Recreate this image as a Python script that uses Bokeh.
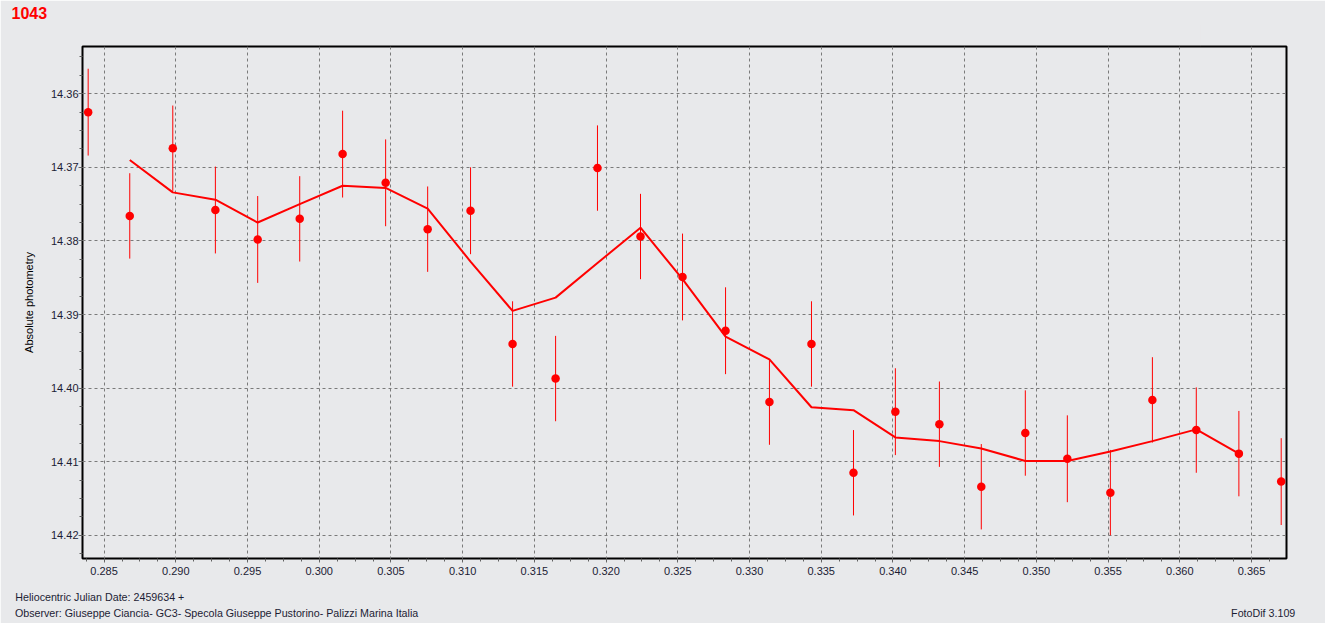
from bokeh.plotting import figure
from bokeh.models import Range1d, FixedTicker, ColumnDataSource, Title, LinearAxis
from bokeh.embed import file_html
from bokeh.resources import INLINE

# ---- data ----
hjd = [0.28389, 0.28679, 0.28979, 0.29276, 0.29571, 0.29864, 0.30163, 0.30463,
       0.30756, 0.31055, 0.31348, 0.31648, 0.31940, 0.32240, 0.32533, 0.32833,
       0.33139, 0.33432, 0.33725, 0.34017, 0.34324, 0.34616, 0.34923, 0.35216,
       0.35516, 0.35809, 0.36115, 0.36412, 0.36707]
mag = [14.3625, 14.3766, 14.3674, 14.3758, 14.3798, 14.3770, 14.3682, 14.3721,
       14.3784, 14.3759, 14.3940, 14.3987, 14.3701, 14.3794, 14.3849, 14.3922,
       14.4019, 14.3940, 14.4115, 14.4032, 14.4049, 14.4134, 14.4061, 14.4096,
       14.4142, 14.4016, 14.4057, 14.4089, 14.4127]
err = [0.0059, 0.0058, 0.0058, 0.0059, 0.0059, 0.0058, 0.0059, 0.0059,
       0.0058, 0.0059, 0.0058, 0.0058, 0.0058, 0.0058, 0.0059, 0.0059,
       0.0058, 0.0058, 0.0058, 0.0059, 0.0058, 0.0058, 0.0058, 0.0059,
       0.0058, 0.0058, 0.0058, 0.0058, 0.0059]
# running mean curve (from 2nd to 28th point)
avg_hjd = hjd[1:28]
avg_mag = [14.3690, 14.3734, 14.3744, 14.3775, 14.3750, 14.3725, 14.3728, 14.3756,
           14.3828, 14.3895, 14.3877, 14.3830, 14.3782, 14.3852, 14.3930, 14.3961,
           14.4026, 14.4030, 14.4067, 14.4072, 14.4082, 14.4099, 14.4099, 14.4086,
           14.4072, 14.4056, 14.4089]

x_ticks = [0.285, 0.290, 0.295, 0.300, 0.305, 0.310, 0.315, 0.320, 0.325, 0.330,
           0.335, 0.340, 0.345, 0.350, 0.355, 0.360, 0.365]
y_ticks = [14.36, 14.37, 14.38, 14.39, 14.40, 14.41, 14.42]
x_minor = [0.28375 + 0.00125 * i for i in range(68)]
y_minor = [14.355 + 0.0025 * i for i in range(28)]

title_text = "1043"
y_label = "Absolute photometry"
footer1 = "Heliocentric Julian Date: 2459634 +"
footer2 = "Observer: Giuseppe Ciancia- GC3- Specola Giuseppe Pustorino- Palizzi Marina Italia"
footer3 = "FotoDif 3.109"

BG = "#e8e9eb"
RED = "#ff0000"
FONT = "Liberation Sans"
TXT = "#1c1c34"
FOOT_SIZE = "10.7px"

W, H = 1325, 623
BL, BR, BT, BB = 82, 39, 46, 65
X0, X1 = 0.283495, 0.36744
Y_BOT, Y_TOP = 14.42315, 14.35358

p = figure(width=W, height=H, output_backend="svg", toolbar_location=None,
           x_range=Range1d(X0, X1), y_range=Range1d(Y_BOT, Y_TOP))
p.min_border_left = BL
p.min_border_right = BR
p.min_border_top = BT
p.min_border_bottom = BB
p.background_fill_color = BG
p.border_fill_color = BG
p.outline_line_color = "black"
p.outline_line_width = 2
p.title.visible = False

p.xaxis.ticker = FixedTicker(ticks=x_ticks, minor_ticks=x_minor)
p.yaxis.ticker = FixedTicker(ticks=y_ticks, minor_ticks=y_minor)
p.xaxis.major_label_overrides = {t: f"{t:.3f}" for t in x_ticks}
p.yaxis.major_label_overrides = {t: f"{t:.2f}" for t in y_ticks}

for ax in (p.xaxis[0], p.yaxis[0]):
    ax.axis_line_color = None
    ax.major_tick_line_color = "#707070"
    ax.minor_tick_line_color = "#606060"
    ax.major_tick_in = 0
    ax.minor_tick_in = 0
    ax.major_tick_out = 4
    ax.minor_tick_out = 3
    ax.major_label_text_font = FONT
    ax.major_label_text_font_size = "11px"
    ax.major_label_text_color = TXT

p.xaxis.major_label_standoff = 4
p.yaxis.major_label_standoff = 0
p.yaxis.axis_label = y_label
p.yaxis.axis_label_text_font = FONT
p.yaxis.axis_label_text_font_size = "11px"
p.yaxis.axis_label_text_font_style = "normal"
p.yaxis.axis_label_text_color = "black"
p.yaxis.axis_label_standoff = 13

p.xgrid.ticker = FixedTicker(ticks=x_ticks)
p.ygrid.ticker = FixedTicker(ticks=y_ticks)
for g in (p.xgrid[0], p.ygrid[0]):
    g.grid_line_color = "#7a7a7a"
    g.grid_line_dash = "3 3"
    g.grid_line_width = 1

src = ColumnDataSource(data=dict(
    x=hjd, y=mag,
    lo=[m - e for m, e in zip(mag, err)],
    hi=[m + e for m, e in zip(mag, err)]))

p.segment(x0="x", y0="lo", x1="x", y1="hi", source=src, line_color=RED, line_width=1)
p.line(avg_hjd, avg_mag, line_color=RED, line_width=2)
p.scatter("x", "y", source=src, size=8.5, fill_color=RED, line_color=RED, line_width=0)


# ---- captions around the frame (kept in side panels so they are not clipped) ----
def dx(px):
    # page pixel -> x data value (used only to centre caption rows)
    return X0 + (px - BL) / (W - BL - BR) * (X1 - X0)


def caption_axis(labels, standoff):
    """An axis without ticks whose tick labels are the caption texts."""
    locs = [dx(c) for c in labels.values()]
    ax = LinearAxis(ticker=FixedTicker(ticks=locs, minor_ticks=[]))
    ax.major_label_overrides = {loc: txt for loc, txt in zip(locs, labels.keys())}
    ax.axis_line_color = None
    ax.major_tick_line_color = None
    ax.minor_tick_line_color = None
    ax.major_tick_in = 0
    ax.major_tick_out = 0
    ax.minor_tick_in = 0
    ax.minor_tick_out = 0
    ax.major_label_standoff = standoff
    ax.major_label_text_font = FONT
    ax.major_label_text_font_size = FOOT_SIZE
    ax.major_label_text_color = TXT
    p.add_layout(ax, "below")


# caption text -> centre pixel column of the text in the reference
caption_axis({footer1: 99.3}, 13)
caption_axis({footer2: 216.1, footer3: 1262.7}, 1)

# spacer above the frame: one hairline tick in the background colour, empty label
spacer_loc = [dx(1200)]
spacer = LinearAxis(ticker=FixedTicker(ticks=spacer_loc, minor_ticks=[]))
spacer.major_label_overrides = {spacer_loc[0]: ""}
spacer.axis_line_color = None
spacer.major_tick_line_color = BG
spacer.major_tick_line_width = 0.05
spacer.minor_tick_line_color = None
spacer.major_tick_in = 0
spacer.minor_tick_in = 0
spacer.major_tick_out = 22
spacer.minor_tick_out = 0
spacer.major_label_standoff = 0
p.add_layout(spacer, "above")

# red id title at the top left
p.add_layout(Title(text=title_text, align="left", offset=-71, vertical_align="top",
                   standoff=7, text_font=FONT, text_font_size="16px",
                   text_font_style="bold", text_color=RED), "above")

open("out.html", "w").write(file_html(p, INLINE))
